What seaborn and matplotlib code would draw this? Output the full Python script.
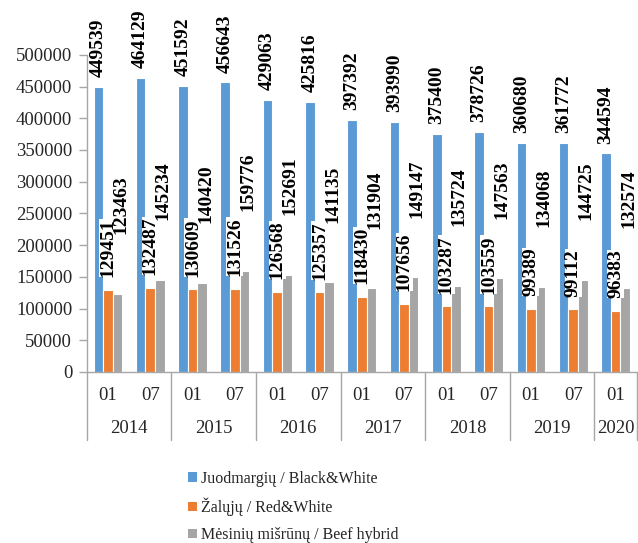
import matplotlib
matplotlib.use("Agg")
import matplotlib.pyplot as plt
import matplotlib.transforms as mtransforms
import seaborn as sns
import pandas as pd

# Half-year herd counts by breed group
years = ["2014", "2014", "2015", "2015", "2016", "2016", "2017", "2017",
         "2018", "2018", "2019", "2019", "2020"]
months = ["01", "07", "01", "07", "01", "07", "01", "07",
          "01", "07", "01", "07", "01"]
black_white = [449539, 464129, 451592, 456643, 429063, 425816, 397392,
               393990, 375400, 378726, 360680, 361772, 344594]
red_white = [129451, 132487, 130609, 131526, 126568, 125357, 118430,
             107656, 103287, 103559, 99389, 99112, 96383]
beef_hybrid = [123463, 145234, 140420, 159776, 152691, 141135, 131904,
               149147, 135724, 147563, 134068, 144725, 132574]
series_names = ["Juodmargių / Black&White", "Žalųjų / Red&White",
                "Mėsinių mišrūnų / Beef hybrid"]
colors = ["#5B9BD5", "#ED7D31", "#A5A5A5"]

periods = [f"{y}-{m}" for y, m in zip(years, months)]
frames = []
for name, vals in zip(series_names, [black_white, red_white, beef_hybrid]):
    frames.append(pd.DataFrame({"period": periods, "breed": name, "count": vals}))
df = pd.concat(frames, ignore_index=True)

sns.set_theme(style="white")
plt.rcParams["font.family"] = ["Liberation Serif", "DejaVu Serif"]
plt.rcParams["savefig.bbox"] = None

fig = plt.figure(figsize=(6.38, 5.43), dpi=100)
ax = fig.add_axes([0.136, 0.315, 0.862, 0.584])

sns.barplot(data=df, x="period", y="count", hue="breed", order=periods,
            hue_order=series_names, palette=colors, saturation=1,
            errorbar=None, width=0.68, edgecolor="white", linewidth=0.8,
            ax=ax, legend=False)

ax.set_xlim(-0.5, len(periods) - 0.5)
ax.set_ylim(0, 500000)
ax.set_yticks(range(0, 500001, 50000))
ax.set_yticklabels([str(v) for v in range(0, 500001, 50000)], fontsize=13.5)
ax.set_xticks(range(len(periods)))
ax.set_xticklabels(months, fontsize=13.5)
ax.set_xlabel("")
ax.set_ylabel("")
ax.tick_params(axis="y", length=6, width=1, color="#A6A6A6", pad=4.5,
               left=True, direction="out")
ax.tick_params(axis="x", length=0, pad=11)
for side in ["top", "right"]:
    ax.spines[side].set_visible(False)
for side in ["left", "bottom"]:
    ax.spines[side].set_color("#A6A6A6")
    ax.spines[side].set_linewidth(1)

# Value labels, rotated, above each bar
pads = [7, 9, 43]
x_shift = [0, 0, 2.5]
for i, (cont, pad) in enumerate(zip(ax.containers, pads)):
    kw = dict(rotation=90, padding=pad, fontsize=14, fontweight="bold",
              color="black")
    if i == 1:
        kw["bbox"] = dict(facecolor="white", edgecolor="none", pad=0)
    anns = ax.bar_label(cont, labels=[str(int(v)) for v in cont.datavalues],
                        **kw)
    for ann in anns:
        ann.xyann = (x_shift[i], pad)

# Year row beneath month labels with group separators
trans = mtransforms.blended_transform_factory(ax.transData, ax.transAxes)
unique_years = list(dict.fromkeys(years))
bounds = [-0.5]
for y in unique_years:
    idx = [i for i, yy in enumerate(years) if yy == y]
    center = (idx[0] + idx[-1]) / 2
    ax.text(center, -0.177, y, transform=trans, ha="center", va="center",
            fontsize=13.5)
    bounds.append(idx[-1] + 0.5)
for b in bounds:
    ax.plot([b, b], [0, -0.215], transform=trans, color="#A6A6A6",
            linewidth=1, clip_on=False)

handles = [plt.Rectangle((0, 0), 1, 1, facecolor=c, edgecolor="none")
           for c in colors]
fig.legend(handles, series_names, loc="upper left",
           bbox_to_anchor=(0.295, 0.133), frameon=False, fontsize=11.5,
           handlelength=0.55, handleheight=0.55, handletextpad=0.25,
           labelspacing=0.68, borderpad=0, borderaxespad=0)

fig.savefig("out.png", dpi=100, bbox_inches=None)
